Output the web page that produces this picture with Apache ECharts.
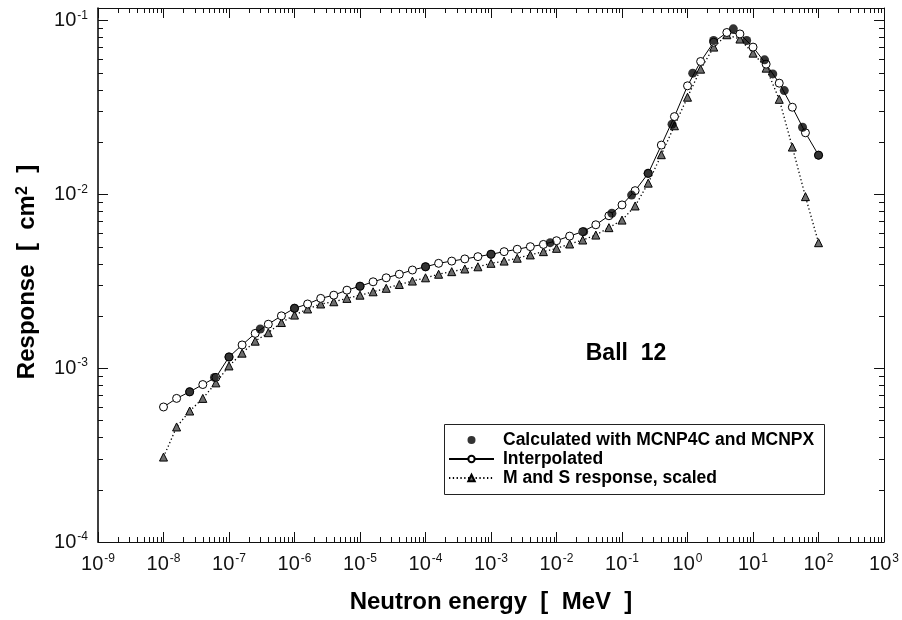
<!DOCTYPE html>
<html><head><meta charset="utf-8">
<script src="https://cdn.jsdelivr.net/npm/echarts@6/dist/echarts.min.js"></script>
<style>html,body{margin:0;padding:0;background:#fff}#c{width:902px;height:620px}</style>
</head><body><div id="c"></div>
<script>
// Energy grid (MeV) used by the interpolated and the M&S curves
const gridEnergy = [
  1e-8, 1.585e-8, 2.512e-8, 3.981e-8, 6.310e-8,
  1e-7, 1.585e-7, 2.512e-7, 3.981e-7, 6.310e-7,
  1e-6, 1.585e-6, 2.512e-6, 3.981e-6, 6.310e-6,
  1e-5, 1.585e-5, 2.512e-5, 3.981e-5, 6.310e-5,
  1e-4, 1.585e-4, 2.512e-4, 3.981e-4, 6.310e-4,
  1e-3, 1.585e-3, 2.512e-3, 3.981e-3, 6.310e-3,
  1e-2, 1.585e-2, 2.512e-2, 3.981e-2, 6.310e-2,
  1e-1, 1.585e-1, 2.512e-1, 3.981e-1, 6.310e-1,
  1, 1.585, 2.512, 3.981, 6.310,
  10, 15.85, 25.12, 39.81, 63.10,
  100
];
const interpolatedResponse = [
  5.98e-4, 6.70e-4, 7.31e-4, 8.05e-4, 8.85e-4,
  1.16e-3, 1.36e-3, 1.585e-3, 1.79e-3, 2.00e-3,
  2.21e-3, 2.34e-3, 2.52e-3, 2.63e-3, 2.81e-3,
  2.96e-3, 3.14e-3, 3.31e-3, 3.47e-3, 3.67e-3,
  3.83e-3, 4.01e-3, 4.13e-3, 4.25e-3, 4.38e-3,
  4.52e-3, 4.68e-3, 4.83e-3, 5.00e-3, 5.15e-3,
  5.41e-3, 5.75e-3, 6.10e-3, 6.68e-3, 7.53e-3,
  8.69e-3, 1.05e-2, 1.32e-2, 1.92e-2, 2.80e-2,
  4.21e-2, 5.81e-2, 7.50e-2, 8.53e-2, 8.37e-2,
  7.03e-2, 5.61e-2, 4.36e-2, 3.17e-2, 2.26e-2,
  1.68e-2
];
const msResponse = [
  3.08e-4, 4.59e-4, 5.67e-4, 6.70e-4, 8.23e-4,
  1.03e-3, 1.22e-3, 1.43e-3, 1.60e-3, 1.83e-3,
  2.02e-3, 2.19e-3, 2.34e-3, 2.41e-3, 2.52e-3,
  2.63e-3, 2.75e-3, 2.88e-3, 3.03e-3, 3.17e-3,
  3.31e-3, 3.47e-3, 3.59e-3, 3.72e-3, 3.83e-3,
  4.01e-3, 4.13e-3, 4.29e-3, 4.48e-3, 4.68e-3,
  4.89e-3, 5.18e-3, 5.46e-3, 5.83e-3, 6.43e-3,
  7.11e-3, 8.57e-3, 1.16e-2, 1.69e-2, 2.48e-2,
  3.62e-2, 5.25e-2, 7.03e-2, 8.28e-2, 7.82e-2,
  6.49e-2, 5.32e-2, 3.52e-2, 1.87e-2, 9.7e-3,
  5.27e-3
];
// Calculated (MCNP4C / MCNPX) points
const calcEnergy = [2.5e-8, 6e-8, 1e-7, 3e-7, 1e-6, 1e-5, 1e-4, 1e-3, 8e-3, 2.6e-2, 7e-2, 0.14, 0.25, 0.58, 1.2, 2.5, 5, 8, 15, 20, 30, 57, 100];
const calcResponse = [7.31e-4, 8.85e-4, 1.16e-3, 1.68e-3, 2.21e-3, 2.96e-3, 3.83e-3, 4.52e-3, 5.27e-3, 6.10e-3, 7.78e-3, 9.9e-3, 1.32e-2, 2.53e-2, 4.98e-2, 7.67e-2, 8.95e-2, 7.67e-2, 5.94e-2, 4.93e-2, 3.95e-2, 2.43e-2, 1.68e-2];

const seriesNames = ['Calculated with MCNP4C and MCNPX', 'Interpolated', 'M and S response, scaled'];
const xMin = 1e-9, xMax = 1e3, yMin = 1e-4, yMax = 0.118;

const FONT = 'Liberation Sans, Arial, Helvetica, sans-serif';
const INK = '#111';

function pow10Label(v) {
  const e = Math.log10(v);
  const r = Math.round(e);
  if (Math.abs(e - r) > 1e-6) return '';
  return '{a|10}{b|' + r + '}';
}
const labelRich = {
  a: {fontSize: 20, fontFamily: FONT, color: INK, lineHeight: 22},
  b: {fontSize: 12, fontFamily: FONT, color: INK, verticalAlign: 'top', lineHeight: 12, padding: [0, 0, 0, 1]}
};

// minor tick positions (2..9 x 10^k)
const xMinor = [], yMinor = [];
for (let k = -9; k < 3; k++) for (let m = 2; m <= 9; m++) xMinor.push(m * Math.pow(10, k));
for (let k = -4; k < 0; k++) for (let m = 2; m <= 9; m++) { const v = m * Math.pow(10, k); if (v <= yMax) yMinor.push(v); }

function minorSeries(dir) {
  return {
    type: 'custom', coordinateSystem: 'cartesian2d', silent: true, clip: false, z: 5,
    data: dir === 'x' ? xMinor.map(v => [v, 1e-3]) : yMinor.map(v => [1e-3, v]),
    renderItem: function (params, api) {
      const cs = params.coordSys;
      const st = {stroke: INK, lineWidth: 1};
      if (dir === 'x') {
        const px = Math.round(api.coord([api.value(0), 1e-3])[0]) + 0.5;
        const yb = cs.y + cs.height, yt = cs.y;
        return {type: 'group', children: [
          {type: 'line', shape: {x1: px, y1: yb, x2: px, y2: yb - 5}, style: st},
          {type: 'line', shape: {x1: px, y1: yt, x2: px, y2: yt + 5}, style: st}
        ]};
      } else {
        const py = Math.round(api.coord([1e-3, api.value(1)])[1]) + 0.5;
        const xl = cs.x, xr = cs.x + cs.width;
        return {type: 'group', children: [
          {type: 'line', shape: {x1: xl, y1: py, x2: xl + 5, y2: py}, style: st},
          {type: 'line', shape: {x1: xr, y1: py, x2: xr - 5, y2: py}, style: st}
        ]};
      }
    }
  };
}

const axisCommon = {
  type: 'log', logBase: 10, interval: 1,
  axisLine: {show: true, lineStyle: {color: INK, width: 1}},
  axisTick: {show: true, inside: true, length: 10, lineStyle: {color: INK, width: 1}},
  splitLine: {show: false}, minorTick: {show: false}
};

const chart = echarts.init(document.getElementById('c'), null, {renderer: 'canvas'});
chart.setOption({
  animation: false,
  backgroundColor: '#fff',
  grid: {left: 98, top: 8, width: 788, height: 534, containLabel: false},
  xAxis: [
    Object.assign({}, axisCommon, {position: 'bottom', min: xMin, max: xMax,
      axisLabel: {show: true, margin: 11, formatter: pow10Label, rich: labelRich}}),
    Object.assign({}, axisCommon, {position: 'top', min: xMin, max: xMax, axisLabel: {show: false}})
  ],
  yAxis: [
    Object.assign({}, axisCommon, {position: 'left', min: yMin, max: yMax,
      axisLine: {show: true, lineStyle: {color: '#000', width: 1.5}},
      axisLabel: {show: true, margin: 10, formatter: pow10Label, rich: labelRich}}),
    Object.assign({}, axisCommon, {position: 'right', min: yMin, max: yMax, axisLabel: {show: false}})
  ],
  legend: {
    data: [
      {name: seriesNames[0], icon: 'circle'},
      {name: seriesNames[1]},
      {name: seriesNames[2]}
    ],
    orient: 'vertical', left: 443, top: 426, itemWidth: 45, itemHeight: 8, itemGap: 1,
    selectedMode: false,
    textStyle: {fontFamily: FONT, fontWeight: 'bold', fontSize: 17.5, color: '#000', padding: [0, 0, 0, 4]}
  },
  graphic: [
    {type: 'rect', left: 442, top: 422, shape: {width: 380, height: 70},
      style: {fill: 'none', stroke: '#222', lineWidth: 1}, z: 0},
    {type: 'text', x: 626, y: 354, style: {text: 'Ball  12', font: 'bold 23px ' + FONT, fill: '#000', align: 'center', verticalAlign: 'middle'}},
    {type: 'text', x: 491, y: 602, style: {text: 'Neutron energy  [  MeV  ]', font: 'bold 24px ' + FONT, fill: '#000', align: 'center', verticalAlign: 'middle'}},
    {type: 'text', x: 27, y: 272, rotation: Math.PI / 2,
      style: {text: 'Response  [  cm{s|2}  ]', font: 'bold 24px ' + FONT, fill: '#000', align: 'center', verticalAlign: 'middle',
        rich: {s: {font: 'bold 16px ' + FONT, verticalAlign: 'top', lineHeight: 14}}}}
  ],
  series: [
    minorSeries('x'),
    minorSeries('y'),
    {
      name: seriesNames[2], type: 'line', z: 3,
      data: gridEnergy.map((e, i) => [e, msResponse[i]]),
      symbol: 'triangle', symbolSize: 8, showAllSymbol: true,
      itemStyle: {color: '#6e6e6e', borderColor: '#000', borderWidth: 1},
      lineStyle: {color: '#000', width: 1.3, type: [1.3, 2.5]}
    },
    {
      name: seriesNames[1], type: 'line', z: 4,
      data: gridEnergy.map((e, i) => [e, interpolatedResponse[i]]),
      symbol: 'circle', symbolSize: 8, showAllSymbol: true,
      itemStyle: {color: '#fff', borderColor: '#000', borderWidth: 1},
      lineStyle: {color: '#000', width: 1}
    },
    {
      name: seriesNames[0], type: 'scatter', z: 6,
      data: calcEnergy.map((e, i) => [e, calcResponse[i]]),
      symbol: 'circle', symbolSize: 9,
      itemStyle: {color: '#000'}
    }
  ]
});
</script>
</body></html>
